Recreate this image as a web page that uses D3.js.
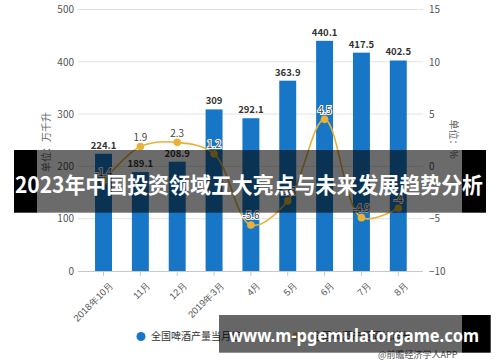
<!DOCTYPE html>
<html><head><meta charset="utf-8">
<script src="https://cdn.jsdelivr.net/npm/d3@7"></script>
<style>
html,body{margin:0;padding:0;background:#fff;}
svg{display:block;font-family:"Noto Sans CJK SC","Noto Sans",sans-serif;}
</style></head>
<body>
<svg id="chart" width="500" height="362"></svg>
<script>
const categories = ["2018年10月","11月","12月","2019年3月","4月","5月","6月","7月","8月"];
const production = [224.1,189.1,208.9,309,292.1,363.9,440.1,417.5,402.5];
const growth = [-1.4,1.9,2.3,1.2,-5.6,-3.3,4.5,-4.9,-4];
const growthLabels = ["-1.4","1.9","2.3","1.2","-5.6","-3.3","4.5","-4.9","-4"];
const leftTicks = [0,100,200,300,400,500];
const rightTicks = [-10,-5,0,5,10,15];
const leftTitle = "单位：万千升";
const rightTitle = "单位：%";
const legendNames = ["全国啤酒产量当月值","全国啤酒产量同比增长"];
const bannerTitle = "2023年中国投资领域五大亮点与未来发展趋势分析";
const watermark = "www.m-pgemulatorgame.com";
const source = "@前瞻经济学人APP";

const blue = "#1777c6", gold = "#e8b23a";
const svg = d3.select("#chart");
const plotL = 78, plotR = 423, plotT = 9.5, plotB = 271;

const x = d3.scaleBand().domain(categories).range([85.1, 416.7]).paddingInner(0.54).paddingOuter(0.27);
const yL = d3.scaleLinear().domain([0,500]).range([plotB, plotT]);
const yR = d3.scaleLinear().domain([-10,15]).range([plotB, plotT]);

// gridlines
svg.append("g").selectAll("line").data(leftTicks.slice(1)).join("line")
  .attr("x1", plotL).attr("x2", plotR)
  .attr("y1", d => yL(d)).attr("y2", d => yL(d))
  .attr("stroke", "#e3e3e3").attr("stroke-width", 1);

// left axis
const gl = svg.append("g").attr("transform", `translate(${plotL},0)`)
  .call(d3.axisLeft(yL).tickValues(leftTicks).tickSize(0).tickPadding(4));
gl.select(".domain").remove();
gl.selectAll("text").attr("fill", "#555").attr("font-size", 10).attr("font-family", "'Noto Sans CJK SC'");

// right axis
const gr = svg.append("g").attr("transform", `translate(${plotR},0)`)
  .call(d3.axisRight(yR).tickValues(rightTicks).tickSize(0).tickPadding(6));
gr.select(".domain").remove();
gr.selectAll("text").attr("fill", "#555").attr("font-size", 10).attr("font-family", "'Noto Sans CJK SC'");

// bottom axis
const gb = svg.append("g").attr("transform", `translate(0,${plotB})`)
  .call(d3.axisBottom(x).tickSize(5).tickSizeOuter(0));
gb.select(".domain").attr("d", `M${plotL},0.5H${plotR}`).attr("stroke", "#c8c8c8");
gb.selectAll(".tick line").attr("stroke", "#c8c8c8");
gb.selectAll("text").attr("fill", "#555").attr("font-size", 9.5)
  .attr("text-anchor", "end").attr("dx", 0).attr("dy", 0)
  .attr("transform", "translate(5,9) rotate(-45)");

// axis titles
svg.append("text").attr("transform", "translate(50,142) rotate(-90)")
  .attr("text-anchor", "middle").attr("font-size", 10).attr("fill", "#666").text(leftTitle);
svg.append("text").attr("transform", "translate(450,139) rotate(90)")
  .attr("text-anchor", "middle").attr("font-size", 10).attr("fill", "#666").text(rightTitle);

// bars
svg.append("g").selectAll("rect").data(production).join("rect")
  .attr("x", (d,i) => x(categories[i])).attr("width", x.bandwidth())
  .attr("y", d => yL(d)).attr("height", d => plotB - yL(d)).attr("fill", blue);

svg.append("g").selectAll("text").data(production).join("text")
  .attr("x", (d,i) => x(categories[i]) + x.bandwidth()/2).attr("y", d => yL(d) - 5)
  .attr("text-anchor", "middle").attr("font-size", 9.5).attr("font-weight", "bold")
  .attr("fill", "#333").text(d => d);

// line
const cx = (i) => x(categories[i]) + x.bandwidth()/2;
const line = d3.line().x((d,i) => cx(i)).y(d => yR(d)).curve(d3.curveCatmullRom.alpha(0.5));
svg.append("path").datum(growth).attr("d", line).attr("fill", "none")
  .attr("stroke", gold).attr("stroke-width", 1.6);
svg.append("g").selectAll("circle").data(growth).join("circle")
  .attr("cx", (d,i) => cx(i)).attr("cy", d => yR(d)).attr("r", 3.8).attr("fill", gold);
svg.append("g").selectAll("text").data(growth).join("text")
  .attr("x", (d,i) => cx(i)).attr("y", d => yR(d) - 5.5)
  .attr("text-anchor", "middle").attr("font-size", 10).attr("fill", "#444")
  .attr("stroke", "#fff").attr("stroke-width", 2).attr("paint-order", "stroke")
  .text((d,i) => growthLabels[i]);

// legend
svg.append("circle").attr("cx", 141).attr("cy", 336.5).attr("r", 4.5).attr("fill", blue);
svg.append("text").attr("x", 151).attr("y", 340).attr("font-size", 10).attr("fill", "#333").text(legendNames[0]);
svg.append("line").attr("x1", 287).attr("x2", 306).attr("y1", 336.5).attr("y2", 336.5).attr("stroke", gold).attr("stroke-width", 2);
svg.append("circle").attr("cx", 296.5).attr("cy", 336.5).attr("r", 4).attr("fill", gold);
svg.append("text").attr("x", 312).attr("y", 340).attr("font-size", 10).attr("fill", "#333").text(legendNames[1]);

// source
svg.append("text").attr("x", 378).attr("y", 357.5).attr("font-size", 9).attr("fill", "#555").text(source);

// title banner
svg.append("rect").attr("x", 14).attr("y", 150).attr("width", 23).attr("height", 62.7).attr("fill", "#000");
svg.append("rect").attr("x", 37).attr("y", 150).attr("width", 424.7).attr("height", 62.7).attr("fill", "rgba(0,0,0,0.58)");
svg.append("rect").attr("x", 461.7).attr("y", 150).attr("width", 24.3).attr("height", 62.7).attr("fill", "#000");
svg.append("text").attr("x", 15).attr("y", 193).attr("font-size", 22).attr("font-weight", "bold")
  .attr("fill", "#fff").attr("textLength", 468).attr("lengthAdjust", "spacingAndGlyphs").text(bannerTitle);

// watermark banner
svg.append("rect").attr("x", 219).attr("y", 315).attr("width", 243).attr("height", 37.7).attr("fill", "rgba(0,0,0,0.6)");
svg.append("rect").attr("x", 462).attr("y", 315).attr("width", 28.7).attr("height", 37.7).attr("fill", "#000");
svg.append("text").attr("x", 229).attr("y", 341.5).attr("font-size", 18).attr("font-weight", "bold")
  .attr("font-family", "'Noto Sans','Open Sans',sans-serif")
  .attr("fill", "#fff").attr("textLength", 250).attr("lengthAdjust", "spacingAndGlyphs").text(watermark);
</script>
</body></html>
